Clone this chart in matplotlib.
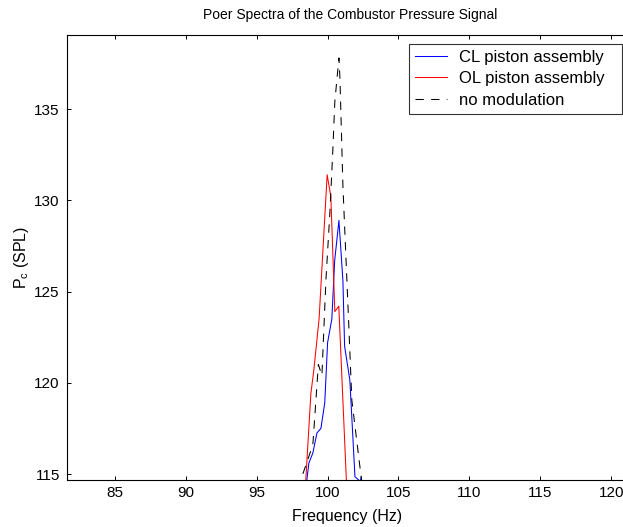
import matplotlib
matplotlib.use("Agg")
import matplotlib.pyplot as plt

plt.rcParams['font.family'] = ['Liberation Sans', 'DejaVu Sans']
plt.rcParams['mathtext.fontset'] = 'custom'
plt.rcParams['mathtext.rm'] = 'Liberation Sans'

# closed-loop piston assembly
cl_freq = [98.3, 98.54, 98.68, 98.96, 99.25, 99.53, 99.8, 100.0, 100.3, 100.5, 100.8,
           101.08, 101.2, 101.57, 101.93, 102.3, 102.38, 102.5]
cl_spl = [113.0, 114.7, 115.6, 116.15, 117.25, 117.5, 118.9, 122.2, 123.5, 126.7, 128.9,
          125.6, 122.0, 120.15, 114.85, 114.6, 114.85, 113.5]

# open-loop piston assembly
ol_freq = [98.3, 98.82, 99.03, 99.4, 99.97, 100.23, 100.51, 100.79, 101.35]
ol_spl = [112.5, 119.4, 120.7, 123.5, 131.4, 130.2, 123.9, 124.2, 114.2]

# no modulation
nm_freq = [97.9, 98.96, 99.35, 99.6, 99.88, 100.16, 100.37, 100.51, 100.8, 100.87,
           101.08, 101.5, 101.71, 102.35, 102.6]
nm_spl = [114.2, 116.6, 121.0, 120.4, 125.6, 129.3, 132.75, 135.4, 137.8, 136.7,
          130.8, 123.05, 119.05, 114.95, 113.5]

x_ticks = [85, 90, 95, 100, 105, 110, 115, 120]
y_ticks = [115, 120, 125, 130, 135]

W, H = 623, 527
fig = plt.figure(figsize=(W / 100, H / 100), dpi=100)
ax_left, ax_right, ax_top, ax_bottom = 66.7, 633.0, 35.3, 479.5
ax = fig.add_axes([ax_left / W, 1 - ax_bottom / H,
                   (ax_right - ax_left) / W, (ax_bottom - ax_top) / H])

lw = 0.75
ax.plot(cl_freq, cl_spl, color='#0000ff', lw=lw, label='CL piston assembly')
ax.plot(ol_freq, ol_spl, color='#ff0000', lw=lw, label='OL piston assembly')
ax.plot(nm_freq, nm_spl, color='black', lw=lw, ls=(0, (8, 7)), label='no modulation')

ax.set_xlim(81.6, 121.54)
ax.set_ylim(114.70, 139.04)
ax.set_xticks(x_ticks)
ax.set_yticks(y_ticks)
ax.tick_params(direction='in', length=3, width=0.7, top=True, right=True,
               labelsize=11, pad=5, colors='black')
for s in ax.spines.values():
    s.set_linewidth(0.8)

ax.set_title('Poer Spectra of the Combustor Pressure Signal', fontsize=10, pad=0,
             y=1 + (ax_top - 15) / (ax_bottom - ax_top), va='center')

ax.set_xlabel('Frequency (Hz)', fontsize=11.5)
ax.xaxis.set_label_coords((347 - ax_left) / (ax_right - ax_left),
                          -(517 - ax_bottom) / (ax_bottom - ax_top))
ax.xaxis.label.set_va('center')

ax.set_ylabel(r'$\mathregular{P_c}$ (SPL)', fontsize=11.5)
ax.yaxis.set_label_coords(-(ax_left - 21) / (ax_right - ax_left), 0.5)
ax.yaxis.label.set_va('center')

# legend box spans a fixed region in the upper right corner
leg_x0, leg_x1, leg_y0, leg_y1 = 409, 622, 44, 113
leg = ax.legend(loc='upper left',
                bbox_to_anchor=(leg_x0 / W, 1 - leg_y1 / H,
                                (leg_x1 - leg_x0) / W, (leg_y1 - leg_y0) / H),
                bbox_transform=fig.transFigure, mode='expand', borderaxespad=0,
                fancybox=False, frameon=True, edgecolor='black', fontsize=12,
                handlelength=1.9, handletextpad=0.75, labelspacing=0.38,
                borderpad=0.36)
leg.get_frame().set_linewidth(0.8)

fig.savefig('out.png', dpi=100)
